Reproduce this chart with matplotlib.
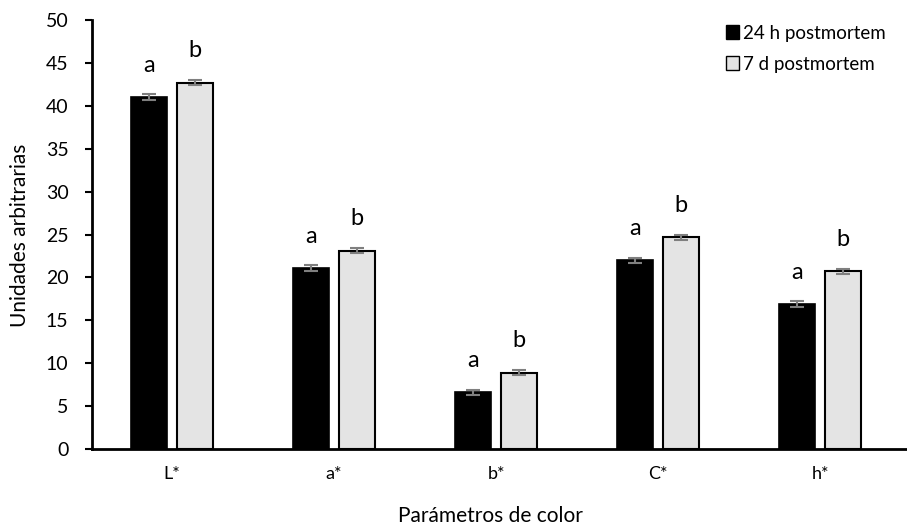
import matplotlib
matplotlib.use("Agg")
import matplotlib.pyplot as plt
import numpy as np
from matplotlib.patches import Patch

plt.rcParams['font.family'] = ['Lato', 'DejaVu Sans']

categories = ['L*', 'a*', 'b*', 'C*', 'h*']
series_names = ['24 h postmortem', '7 d postmortem']
vals_24h = [41.0, 21.1, 6.6, 22.0, 16.9]
vals_7d = [42.7, 23.1, 8.9, 24.7, 20.7]
err_24h = [0.35, 0.3, 0.3, 0.3, 0.3]
err_7d = [0.3, 0.3, 0.3, 0.3, 0.3]
letters_24h = ['a', 'a', 'a', 'a', 'a']
letters_7d = ['b', 'b', 'b', 'b', 'b']

W, H = 907, 531
fig = plt.figure(figsize=(W / 100, H / 100), dpi=100)
ax = fig.add_axes([92 / W, 1 - 449 / H, 1 - 92 / W, (449 - 20) / H])

x = np.arange(len(categories))
bw = 0.222
off = 0.142
errkw = dict(ecolor='#7f7f7f', elinewidth=1.5, capsize=5, capthick=1.5)
ax.bar(x - off, vals_24h, bw, color='black', edgecolor='black', linewidth=1.2,
       yerr=err_24h, error_kw=errkw, zorder=2)
ax.bar(x + off, vals_7d, bw, color='#e4e4e4', edgecolor='black', linewidth=1.5,
       yerr=err_7d, error_kw=errkw, zorder=2)

for i in range(len(categories)):
    ax.text(x[i] - off, vals_24h[i] + 2.5, letters_24h[i], ha='center', va='bottom', fontsize=17)
    ax.text(x[i] + off, vals_7d[i] + 2.5, letters_7d[i], ha='center', va='bottom', fontsize=17)

ax.set_xlim(-0.494, 4.537)
ax.set_ylim(0, 50)
ax.set_yticks(np.arange(0, 51, 5))
ax.set_xticks(x)
ax.set_xticklabels(categories)
ax.tick_params(axis='x', length=0, pad=12, labelsize=13)
ax.tick_params(axis='y', length=5, width=1.5, direction='out', pad=12, labelsize=14)
for s in ['top', 'right']:
    ax.spines[s].set_visible(False)
for s in ['left', 'bottom']:
    ax.spines[s].set_linewidth(2)

fig.text(490 / W, 1 - 516 / H, 'Parámetros de color', ha='center', va='center', fontsize=15)
fig.text(20 / W, 1 - 235 / H, 'Unidades arbitrarias', ha='center', va='center',
         rotation=90, fontsize=15)

handles = [Patch(facecolor='black', edgecolor='black'),
           Patch(facecolor='#e4e4e4', edgecolor='black')]
fig.legend(handles, series_names, loc='upper left', bbox_to_anchor=(718 / W, 1 - 17 / H),
           frameon=False, handlelength=0.7, handleheight=0.7, handletextpad=0.25,
           labelspacing=0.75, fontsize=13.5, borderaxespad=0)

fig.savefig('out.png', dpi=100)
